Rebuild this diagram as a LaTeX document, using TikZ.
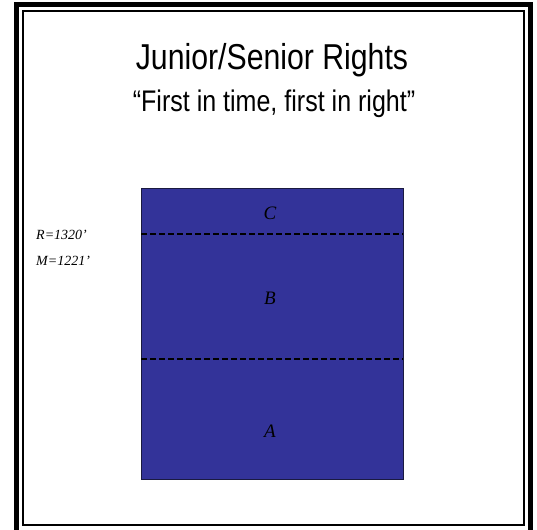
\documentclass[tikz,border=0pt]{standalone}
\usepackage{fontspec}
\setmainfont{Liberation Serif}
\newfontfamily\headfont[FakeStretch=0.84]{Liberation Sans}
\usetikzlibrary{positioning}
\definecolor{WellBlue}{HTML}{333399}
\definecolor{Ink}{HTML}{000000}
\definecolor{EdgeC}{HTML}{1A1A40}

\begin{document}
\begin{tikzpicture}[
  x=1pt, y=-1pt,
  title/.style={anchor=base, inner sep=0pt, font=\headfont\fontsize{36}{40}\selectfont},
  subtitle/.style={anchor=base, inner sep=0pt, font=\headfont\fontsize{29.8}{33}\selectfont},
  lvl/.style={anchor=base west, inner sep=0pt, font=\itshape\fontsize{14}{16}\selectfont},
  zone/.style={anchor=base, inner sep=0pt, font=\itshape\fontsize{19}{21}\selectfont},
  cut/.style={Ink, line width=1.8pt, dash pattern=on 6pt off 3pt}
]
\useasboundingbox (0,0) rectangle (537,529);
% frame
\draw[Ink, line width=5.3pt] (16.5,540) -- (16.5,4.8) -- (530.5,4.8) -- (530.5,540);
\draw[Ink, line width=2.2pt] (22.7,11.2) rectangle (523.8,525.2);

\node[title] (head) at (272,69.3) {Junior/Senior Rights};
\node[subtitle] (motto) at (274,111.7) {“First in time, first in right”};

% the well column
\node[draw=EdgeC, line width=1pt, fill=WellBlue, minimum width=262pt, minimum height=290pt,
      inner sep=0pt] (well) at (272,334) {};
\coordinate (r1) at (141,234);
\coordinate (r2) at (403,234);
\coordinate (m1) at (141,359);
\coordinate (m2) at (403,359);
\draw[cut] (r1) -- (r2);
\draw[cut] (m1) -- (m2);

\node[zone] (zc) at (270,219) {C};
\node[zone] (zb) at (270,304) {B};
\node[zone] (za) at (270,437) {A};

\node[lvl] (lr) at (36,239) {R=1320’};
\node[lvl] (lm) at (36,265) {M=1221’};
\end{tikzpicture}
\end{document}
